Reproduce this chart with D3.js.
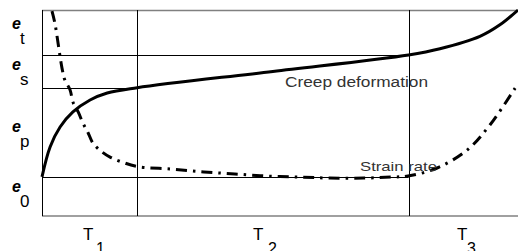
<!DOCTYPE html>
<html>
<head>
<meta charset="utf-8">
<script src="https://cdn.jsdelivr.net/npm/d3@7"></script>
<style>
  body { margin: 0; background: #fff; }
  svg { display: block; }
</style>
</head>
<body>
<div id="chart"></div>
<script>
// stage boundaries (time) and strain levels
const stageBounds = [20, 77];
const stageLabels = ["1", "2", "3"];
const strainLevels = [19, 62, 78];
const strainLabels = ["0", "p", "s", "t"];

// creep deformation curve
const creepT = [0, 1.7, 3.8, 6.5, 10.1, 13.7, 20, 48.5, 77, 83.6, 92, 96.2, 100];
const creepE = [19, 33.5, 43.2, 50.5, 56.3, 59.7, 62.3, 70.2, 78.2, 81.2, 87.2, 92.8, 100];

// strain rate curve
const rateT = [2.1, 2.7, 4.2, 4.8, 5.9, 6.5, 7.6, 8.6, 9.7, 10.7, 12.6, 14.3, 16.8, 20, 27.1, 34, 40.5, 47.3, 54.2, 60.5, 67.6, 73.5, 76.9, 83, 89.3, 94.1, 99.4];
const rateE = [99.5, 93.7, 71.8, 66, 61.2, 55.3, 50.5, 45.1, 40.3, 35.4, 31.1, 28.6, 26.2, 24, 22.8, 21.4, 20.4, 19.4, 18.9, 18.4, 18.4, 18.9, 19.4, 23.3, 32, 44.2, 62.1];

const width = 518, height = 251;
const plot = { left: 42, right: 518, top: 10, bottom: 216 };

const svg = d3.select("#chart").append("svg")
  .attr("width", width)
  .attr("height", height);

const x = d3.scaleLinear().domain([0, 100]).range([plot.left, plot.right]);
const y = d3.scaleLinear().domain([0, 100]).range([plot.bottom, plot.top]);

// frame
svg.append("line").attr("x1", plot.left).attr("x2", plot.right).attr("y1", plot.top + 0.5).attr("y2", plot.top + 0.5)
  .attr("stroke", "#808080").attr("stroke-width", 1.5);
svg.append("line").attr("x1", plot.left).attr("x2", plot.right).attr("y1", plot.bottom).attr("y2", plot.bottom)
  .attr("stroke", "#808080").attr("stroke-width", 1.5);
svg.append("line").attr("x1", plot.left + 0.5).attr("x2", plot.left + 0.5).attr("y1", plot.top).attr("y2", plot.bottom)
  .attr("stroke", "#000").attr("stroke-width", 1);

// vertical stage lines
svg.selectAll(".stage").data(stageBounds).enter().append("line")
  .attr("x1", d => Math.round(x(d)) + 0.5).attr("x2", d => Math.round(x(d)) + 0.5)
  .attr("y1", plot.top).attr("y2", plot.bottom)
  .attr("stroke", "#000").attr("stroke-width", 1);

// horizontal strain level lines (end where creep curve meets them)
const levelEnds = [stageBounds[1], stageBounds[0], stageBounds[1]];
svg.selectAll(".level").data(strainLevels).enter().append("line")
  .attr("x1", plot.left).attr("x2", (d, i) => x(levelEnds[i]))
  .attr("y1", d => Math.round(y(d)) + 0.5).attr("y2", d => Math.round(y(d)) + 0.5)
  .attr("stroke", "#000").attr("stroke-width", 1);

const line = d3.line()
  .x(d => x(d[0]))
  .y(d => y(d[1]))
  .curve(d3.curveCatmullRom.alpha(0.5));

svg.append("path")
  .datum(creepT.map((t, i) => [t, creepE[i]]))
  .attr("d", line)
  .attr("fill", "none")
  .attr("stroke", "#000")
  .attr("stroke-width", 3);

svg.append("path")
  .datum(rateT.map((t, i) => [t, rateE[i]]))
  .attr("d", line)
  .attr("fill", "none")
  .attr("stroke", "#000")
  .attr("stroke-width", 3)
  .attr("stroke-dasharray", "11,6,2.5,6");

// curve labels
svg.append("text")
  .attr("x", 285).attr("y", 87)
  .attr("textLength", 143).attr("lengthAdjust", "spacingAndGlyphs")
  .style("font-family", "'Liberation Sans', Arial, sans-serif")
  .style("font-size", "14px").attr("fill", "#333")
  .text("Creep deformation");

svg.append("text")
  .attr("x", 360).attr("y", 171)
  .attr("textLength", 77).attr("lengthAdjust", "spacingAndGlyphs")
  .style("font-family", "'Liberation Sans', Arial, sans-serif")
  .style("font-size", "13px").attr("fill", "#333")
  .text("Strain rate");

// strain level labels e0, ep, es, et
const eBase = [192, 132, 70, 29];
const eLabels = svg.selectAll(".elab").data(strainLabels).enter().append("g");
eLabels.append("text")
  .attr("x", 12).attr("y", (d, i) => eBase[i])
  .style("font-family", "'Liberation Sans', Arial, sans-serif")
  .style("font-size", "16px").style("font-weight", "bold").style("font-style", "italic")
  .text("e");
eLabels.append("text")
  .attr("x", 20).attr("y", (d, i) => eBase[i] + 15)
  .style("font-family", "'Liberation Sans', Arial, sans-serif")
  .style("font-size", "17px")
  .text(d => d);

// stage labels T1, T2, T3
const tX = [83, 253, 457];
const subDx = [13, 15, 10];
const tLabels = svg.selectAll(".tlab").data(stageLabels).enter().append("g");
tLabels.append("text")
  .attr("x", (d, i) => tX[i]).attr("y", 240)
  .style("font-family", "'Liberation Sans', Arial, sans-serif")
  .style("font-size", "17px")
  .text("T");
tLabels.append("text")
  .attr("x", (d, i) => tX[i] + subDx[i]).attr("y", 254)
  .style("font-family", "'Liberation Sans', Arial, sans-serif")
  .style("font-size", "16px")
  .text(d => d);
</script>
</body>
</html>
